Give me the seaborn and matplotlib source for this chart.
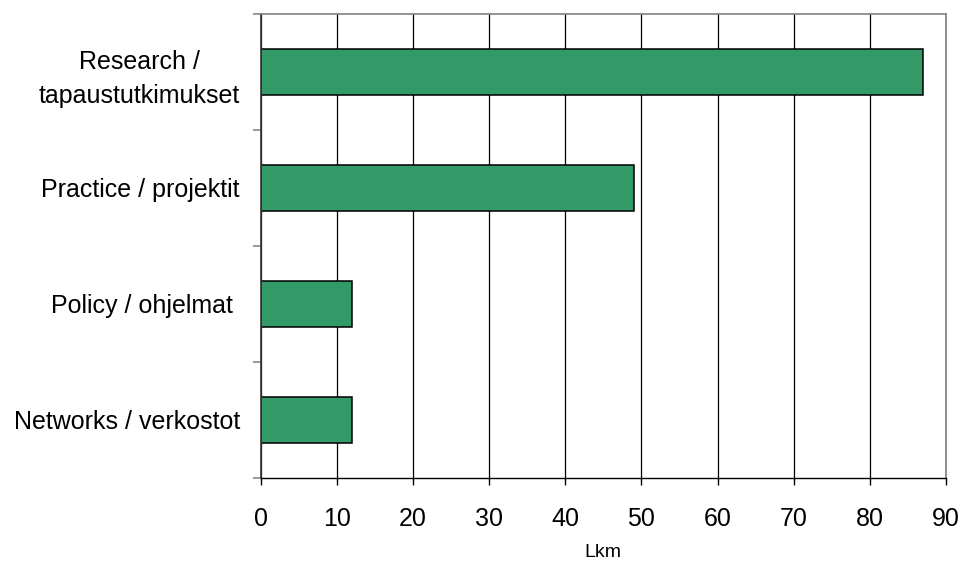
import numpy as np
import pandas as pd
import matplotlib
matplotlib.use('Agg')
import matplotlib.pyplot as plt
import seaborn as sns

# data
categories = ['Research /\ntapaustutkimukset', 'Practice / projektit', 'Policy / ohjelmat ', 'Networks / verkostot']
counts = [87, 49, 12, 12]
xticks = [0, 10, 20, 30, 40, 50, 60, 70, 80, 90]

df = pd.DataFrame({'cat': categories, 'lkm': counts})

sns.set_style('white')
plt.rcParams['font.family'] = ['Liberation Sans', 'DejaVu Sans']
plt.rcParams['text.color'] = 'black'
plt.rcParams['xtick.labelcolor'] = 'black'
plt.rcParams['ytick.labelcolor'] = 'black'
plt.rcParams['axes.labelcolor'] = 'black'

fig = plt.figure(figsize=(9.63, 5.64), dpi=100)
ax = fig.add_axes([0.2707, 0.1525, 0.9823 - 0.2707, 0.9752 - 0.1525])

sns.barplot(data=df, x='lkm', y='cat', orient='h', order=categories, width=0.4,
            color='#339966', saturation=1, edgecolor='black', linewidth=1.1, ax=ax)

ax.set_xlim(0, 90)
ax.set_ylim(3.5, -0.5)
ax.set_xticks(xticks)
ax.set_xticklabels([str(t) for t in xticks])
ax.set_axisbelow(True)
ax.grid(axis='x', color='black', linewidth=0.9)
ax.grid(axis='y', visible=False)

# ticks between the categories
ax.set_yticks(np.arange(-0.5, 4, 1), minor=True)
ax.tick_params(axis='y', which='minor', length=6, width=1.1, color='#808080', left=True)
ax.tick_params(axis='y', which='major', length=0, pad=15, labelsize=18)
ax.tick_params(axis='x', which='major', length=5, width=1, color='black', bottom=True,
               pad=16, labelsize=18)
for lab in ax.get_yticklabels():
    lab.set_multialignment('center')
    lab.set_linespacing(1.5)

ax.set_xlabel('Lkm', fontsize=14, labelpad=9)
ax.set_ylabel('')

for side in ['top', 'right']:
    ax.spines[side].set_visible(True)
    ax.spines[side].set_color('#808080')
    ax.spines[side].set_linewidth(1.2)
ax.spines['left'].set_color('#333333')
ax.spines['left'].set_linewidth(1.2)
ax.spines['bottom'].set_color('black')
ax.spines['bottom'].set_linewidth(1.0)

fig.savefig('out.png', dpi=100)
